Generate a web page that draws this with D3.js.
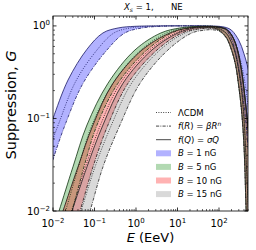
<!DOCTYPE html>
<html><head><meta charset="utf-8">
<script src="https://cdn.jsdelivr.net/npm/d3@7"></script>
<style>body{margin:0;background:#fff}svg{display:block;font-family:"DejaVu Sans",sans-serif}</style>
</head><body><svg id="c" width="256" height="250"></svg>
<script>
// ---- data (E in EeV, G suppression) ----
const xTicks = [0.01, 0.1, 1, 10, 100];
const xTickExp = ["−2", "−1", "0", "1", "2"];
const yTicks = [0.01, 0.1, 1];
const yTickExp = ["−2", "−1", "0"];
const fieldLabels = ["1", "5", "10", "15"];
const fieldColors = ["#0000ff", "#008000", "#ff0000", "#808080"];

const b1_fQ = [[0.008,0.075],[0.01,0.1],[0.023,0.26],[0.066,0.56],[0.16,0.84],[0.37,0.95],[0.95,0.99],[3,1.0],[30,1.0],[70,0.995],[100,0.99],[150,0.96],[200,0.9],[250,0.8],[300,0.7],[350,0.6],[400,0.5],[450,0.42],[500,0.35],[600,0.25]];
const b1_fR = [[0.008,0.026],[0.01,0.036],[0.0195,0.085],[0.053,0.24],[0.2,0.55],[0.54,0.84],[1.4,0.95],[3.8,0.99],[10,1.0],[50,0.995],[100,0.97],[150,0.9],[200,0.72],[250,0.5],[300,0.33],[350,0.22],[400,0.14],[450,0.085],[500,0.05],[600,0.02]];
const b1_LCDM = [[0.008,0.045],[0.01,0.06],[0.014,0.09],[0.035,0.25],[0.115,0.55],[0.295,0.84],[0.72,0.95],[1.84,0.99],[6,1.0],[50,1.0],[100,0.98],[150,0.93],[200,0.81],[250,0.65],[300,0.5],[350,0.38],[400,0.28],[450,0.2],[500,0.14],[600,0.07]];

const b5_fQ = [[0.0095,0.006],[0.01395,0.01],[0.0303,0.03],[0.0659,0.085],[0.211,0.24],[0.946,0.55],[4.0,0.84],[11.5,0.95],[34.8,0.99],[70,0.99],[100,0.97],[150,0.92],[200,0.8],[250,0.65],[300,0.48],[350,0.33],[400,0.21],[450,0.13],[500,0.08],[600,0.03]];
const b5_fR = [[0.0195,0.006],[0.0287,0.01],[0.0558,0.03],[0.115,0.085],[0.368,0.24],[1.84,0.55],[7.36,0.84],[20,0.95],[45,0.97],[70,0.96],[100,0.9],[150,0.75],[200,0.55],[250,0.38],[300,0.22],[350,0.12],[400,0.05],[450,0.01],[500,0.002],[600,0.0001]];
const b5_LCDM = [[0.0136,0.006],[0.02,0.01],[0.0412,0.03],[0.0872,0.085],[0.279,0.24],[1.32,0.55],[5.45,0.84],[15.2,0.95],[45,0.98],[70,0.975],[100,0.94],[150,0.83],[200,0.66],[250,0.5],[300,0.33],[350,0.2],[400,0.1],[450,0.036],[500,0.013],[600,0.002]];

const b10_fQ = [[0.0118,0.006],[0.0174,0.01],[0.04,0.03],[0.092,0.085],[0.279,0.24],[1.4,0.55],[6.59,0.84],[17.9,0.95],[50,0.985],[70,0.985],[100,0.97],[150,0.92],[200,0.8],[250,0.65],[300,0.48],[350,0.33],[400,0.21],[450,0.13],[500,0.08],[600,0.03]];
const b10_fR = [[0.0304,0.006],[0.0447,0.01],[0.092,0.03],[0.211,0.085],[0.641,0.24],[3.21,0.55],[12.8,0.84],[31.2,0.93],[55,0.95],[70,0.945],[100,0.9],[150,0.75],[200,0.55],[250,0.38],[300,0.22],[350,0.12],[400,0.05],[450,0.01],[500,0.002],[600,0.0001]];
const b10_LCDM = [[0.019,0.006],[0.0279,0.01],[0.0606,0.03],[0.139,0.085],[0.42,0.24],[2.12,0.55],[9.2,0.84],[23.6,0.95],[50,0.97],[70,0.965],[100,0.935],[150,0.83],[200,0.66],[250,0.5],[300,0.33],[350,0.2],[400,0.1],[450,0.036],[500,0.013],[600,0.002]];

const b15_fQ = [[0.0195,0.006],[0.0287,0.01],[0.0659,0.03],[0.16,0.085],[0.486,0.24],[2.43,0.55],[10.3,0.84],[26.4,0.95],[55,0.97],[70,0.97],[100,0.96],[150,0.92],[200,0.8],[250,0.65],[300,0.48],[350,0.33],[400,0.21],[450,0.13],[500,0.08],[600,0.03]];
const b15_fR = [[0.053,0.006],[0.078,0.01],[0.16,0.03],[0.411,0.085],[1.25,0.24],[5.9,0.55],[22.3,0.84],[45,0.9],[65,0.91],[100,0.88],[150,0.74],[200,0.55],[250,0.38],[300,0.22],[350,0.12],[400,0.05],[450,0.01],[500,0.002],[600,0.0001]];
const b15_LCDM = [[0.032,0.006],[0.0473,0.01],[0.103,0.03],[0.256,0.085],[0.78,0.24],[3.79,0.55],[15.2,0.84],[35,0.93],[60,0.945],[100,0.92],[150,0.83],[200,0.66],[250,0.5],[300,0.33],[350,0.2],[400,0.1],[450,0.036],[500,0.013],[600,0.002]];

const bands = [
  {fQ: b1_fQ, fR: b1_fR, L: b1_LCDM},
  {fQ: b5_fQ, fR: b5_fR, L: b5_LCDM},
  {fQ: b10_fQ, fR: b10_fR, L: b10_LCDM},
  {fQ: b15_fQ, fR: b15_fR, L: b15_LCDM}
];

// ---- layout ----
const L = 53, R = 248, T = 16, B = 211;
const svg = d3.select("#c");
const x = d3.scaleLog().domain([0.01, 500]).range([L, R]);
const y = d3.scaleLog().domain([0.01, 1.28]).range([B, T]);

svg.append("clipPath").attr("id","clip").append("rect")
  .attr("x",L).attr("y",T).attr("width",R-L).attr("height",B-T);
const g = svg.append("g").attr("clip-path","url(#clip)");

const line = d3.line().x(d=>x(d[0])).y(d=>y(d[1])).curve(d3.curveCatmullRom.alpha(0.5));

bands.forEach((b,i)=>{
  const p1 = line(b.fQ);
  const p2 = line(b.fR.slice().reverse()).replace(/^M/,"L");
  g.append("path").attr("d", p1 + p2 + "Z")
    .attr("fill", fieldColors[i]).attr("fill-opacity",0.3).attr("stroke","none");
});
const lineColors = ["#1a1a66", "#113311", "#221111", "#222222"];
const styles = {L:"1,1.4", fR:"3.2,1.2,0.9,1.2", fQ:null};
bands.forEach((b,i)=>{
  ["L","fR","fQ"].forEach(k=>{
    const p = g.append("path").attr("d", line(b[k])).attr("fill","none")
      .attr("stroke",lineColors[i]).attr("stroke-width",0.8);
    if (styles[k]) p.attr("stroke-dasharray", styles[k]);
  });
});

// ---- axes (ticks inside on all sides) ----
const ax = svg.append("g").attr("stroke","#000").attr("stroke-width",0.8);
function minorVals(lo, hi){ const v=[]; for(let e=lo;e<=hi;e++) for(let m=2;m<=9;m++) v.push(m*Math.pow(10,e)); return v; }
const xMinor = minorVals(-2,2).filter(v=>v<=500);
const yMinor = minorVals(-2,0).filter(v=>v<=1.28);
xTicks.forEach(v=>{ const X=x(v); ax.append("line").attr("x1",X).attr("x2",X).attr("y1",B).attr("y2",B-3.5);
  ax.append("line").attr("x1",X).attr("x2",X).attr("y1",T).attr("y2",T+3.5); });
xMinor.forEach(v=>{ const X=x(v); ax.append("line").attr("x1",X).attr("x2",X).attr("y1",B).attr("y2",B-2).attr("stroke-width",0.6);
  ax.append("line").attr("x1",X).attr("x2",X).attr("y1",T).attr("y2",T+2).attr("stroke-width",0.6); });
yTicks.forEach(v=>{ const Y=y(v); ax.append("line").attr("x1",L).attr("x2",L+3.5).attr("y1",Y).attr("y2",Y);
  ax.append("line").attr("x1",R).attr("x2",R-3.5).attr("y1",Y).attr("y2",Y); });
yMinor.forEach(v=>{ const Y=y(v); ax.append("line").attr("x1",L).attr("x2",L+2).attr("y1",Y).attr("y2",Y).attr("stroke-width",0.6);
  ax.append("line").attr("x1",R).attr("x2",R-2).attr("y1",Y).attr("y2",Y).attr("stroke-width",0.6); });
svg.append("rect").attr("x",L).attr("y",T).attr("width",R-L).attr("height",B-T)
  .attr("fill","none").attr("stroke","#000").attr("stroke-width",0.8);

xTicks.forEach((v,i)=>{
  const t = svg.append("text").attr("x",x(v)).attr("y",227).attr("text-anchor","middle").attr("font-size",10);
  t.append("tspan").text("10");
  t.append("tspan").attr("dy",-4).attr("font-size",7).text(xTickExp[i]);
});
yTicks.forEach((v,i)=>{
  const t = svg.append("text").attr("x",50).attr("y",y(v)+3.5).attr("text-anchor","end").attr("font-size",10);
  t.append("tspan").text("10");
  t.append("tspan").attr("dy",-4).attr("font-size",7).text(yTickExp[i]);
});

// axis labels
const xl = svg.append("text").attr("x",(L+R)/2).attr("y",242).attr("text-anchor","middle").attr("font-size",13);
xl.append("tspan").attr("font-style","italic").text("E");
xl.append("tspan").text(" (EeV)");
const yl = svg.append("text").attr("transform","translate(16,105) rotate(-90)").attr("text-anchor","middle").attr("font-size",14.5);
yl.append("tspan").text("Suppression, ");
yl.append("tspan").attr("font-style","italic").text("G");

// title
const tt = svg.append("text").attr("x",124).attr("y",10).attr("font-size",8.5);
tt.append("tspan").attr("font-style","italic").text("X");
tt.append("tspan").attr("dy",1.8).attr("font-size",6).attr("font-style","italic").text("s");
tt.append("tspan").attr("dy",-1.8).text(" = 1,");
svg.append("text").attr("x",171).attr("y",10).attr("font-size",8.5).text("NE");

// legend
const lg = svg.append("g").attr("font-size",8.5);
const ly0 = 112.5, ldy = 13.6, hx0 = 156, hx1 = 171, tx = 178;
const lineItems = [
  {dash:"1,1.4", parts:[["ΛCDM",""]]},
  {dash:"3.2,1.2,0.9,1.2", parts:[["f","i"],["(",""],["R","i"],[") = ",""],["β","i"],["R","i"],["n","sup"]]},
  {dash:null, parts:[["f","i"],["(",""],["Q","i"],[") = ",""],["σ","i"],["Q","i"]]}
];
lineItems.forEach((it,i)=>{
  const Y = ly0 + i*ldy;
  const l = lg.append("line").attr("x1",hx0).attr("x2",hx1).attr("y1",Y).attr("y2",Y).attr("stroke","#333").attr("stroke-width",0.9);
  if (it.dash) l.attr("stroke-dasharray", it.dash);
  const t = lg.append("text").attr("x",tx).attr("y",Y+3);
  it.parts.forEach(([s,f])=>{
    const sp = t.append("tspan").text(s);
    if (f==="i") sp.attr("font-style","italic");
    if (f==="sup"){ sp.attr("font-size",6).attr("dy",-3.5).attr("font-style","italic"); }
  });
});
fieldLabels.forEach((f,i)=>{
  const Y = ly0 + (i+3)*ldy;
  lg.append("rect").attr("x",hx0).attr("y",Y-3).attr("width",hx1-hx0).attr("height",6)
    .attr("fill",fieldColors[i]).attr("fill-opacity",0.3);
  const t = lg.append("text").attr("x",tx).attr("y",Y+3);
  t.append("tspan").attr("font-style","italic").text("B");
  t.append("tspan").text(" = " + f + " nG");
});
</script></body></html>
